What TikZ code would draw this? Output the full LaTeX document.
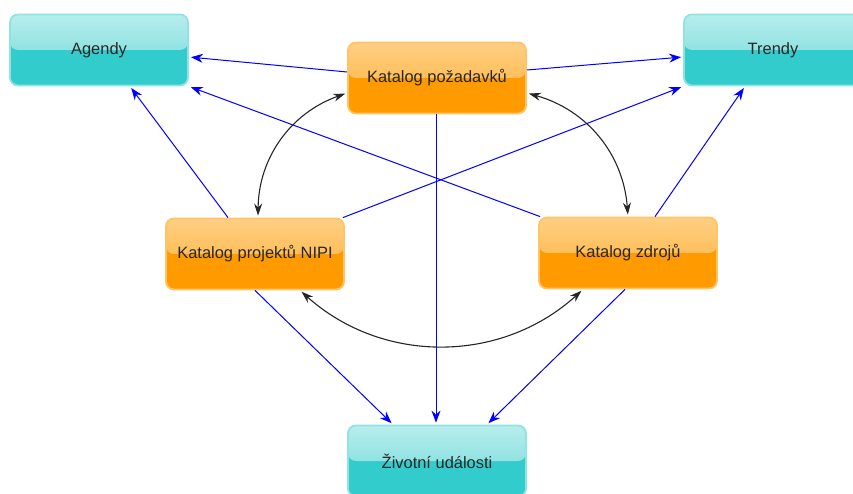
\documentclass[tikz,border=0pt]{standalone}
\usepackage{fontspec}
\setmainfont{Liberation Sans}
\usetikzlibrary{arrows.meta}
\definecolor{cyanlow}{HTML}{33CCCC}
\definecolor{cyantop}{HTML}{B8EDED}
\definecolor{cyanmid}{HTML}{6AD8D8}
\definecolor{cyanrim}{HTML}{8FE3E3}
\definecolor{orglow}{HTML}{FF9A00}
\definecolor{orgtop}{HTML}{FFCF85}
\definecolor{orgmid}{HTML}{FFAF30}
\definecolor{orgrim}{HTML}{FFC565}
\tikzset{%
  box/.style      = {shape=rectangle, rounded corners=8bp, line width=1.8bp,%
                     minimum width=178bp, minimum height=71bp, align=center,%
                     text=black!85, font=\fontsize{16.5}{19}\selectfont},%
  endbox/.style   = {box, draw=cyanrim, fill=cyanlow,%
                     path picture={\fill[top color=cyantop, bottom color=cyanmid]
                       (path picture bounding box.north west) rectangle
                       (path picture bounding box.east);}},%
  catbox/.style   = {box, draw=orgrim, fill=orglow,%
                     path picture={\fill[top color=orgtop, bottom color=orgmid]
                       (path picture bounding box.north west) rectangle
                       (path picture bounding box.east);}},%
  link/.style     = {draw=blue, line width=1bp, -{Stealth[length=12bp,width=9bp]},%
                     shorten >=2bp},%
  twoway/.style   = {draw=black!85, line width=1.1bp,%
                     {Stealth[length=12bp,width=8bp]}-{Stealth[length=12bp,width=8bp]},%
                     shorten >=2bp, shorten <=2bp}%
}
\begin{document}
\begin{tikzpicture}[x=1bp,y=-1bp]
	\useasboundingbox (0,0) rectangle (853,494);
	% boxes
	\node [endbox] (agd)  at (99,50)   {Agendy};
	\node [endbox] (trd)  at (773,50)  {Trendy};
	\node [catbox] (poz)  at (437,78)  {Katalog požadavků};
	\node [catbox] (nipi) at (255,254) {Katalog projektů NIPI};
	\node [catbox] (zdr)  at (628,253) {Katalog zdrojů};
	\node [endbox] (ziv)  at (437,461) {Životní události};
	% blue links
	\draw [link] ([yshift=6bp]poz.west) -- ([yshift=-7bp]agd.east);
	\draw [link] ([yshift=8bp]poz.east) -- ([yshift=-7bp]trd.west);
	\draw [link] ([xshift=-1bp]poz.south) -- ([xshift=-1bp]ziv.north);
	\draw [link] ([xshift=-27bp]nipi.north) -- ([xshift=31bp]agd.south);
	\draw [link] ([xshift=-2bp]nipi.north east) -- (trd.south west);
	\draw [link] ([xshift=2bp]zdr.north west) -- (agd.south east);
	\draw [link] ([xshift=27bp]zdr.north) -- ([xshift=-28bp]trd.south);
	\draw [link] (nipi.south) -- ([xshift=-44bp]ziv.north);
	\draw [link] ([xshift=-3bp]zdr.south) -- ([xshift=50bp]ziv.north);
	% black two-way arrows
	\draw [twoway] ([yshift=-15bp]poz.west) to [bend right=35] ([xshift=3bp]nipi.north);
	\draw [twoway] ([yshift=-15bp]poz.east) to [bend left=35] (zdr.north);
	\draw [twoway] ([xshift=45bp]nipi.south) to [bend right=42] ([xshift=-45bp]zdr.south);
\end{tikzpicture}
\end{document}
